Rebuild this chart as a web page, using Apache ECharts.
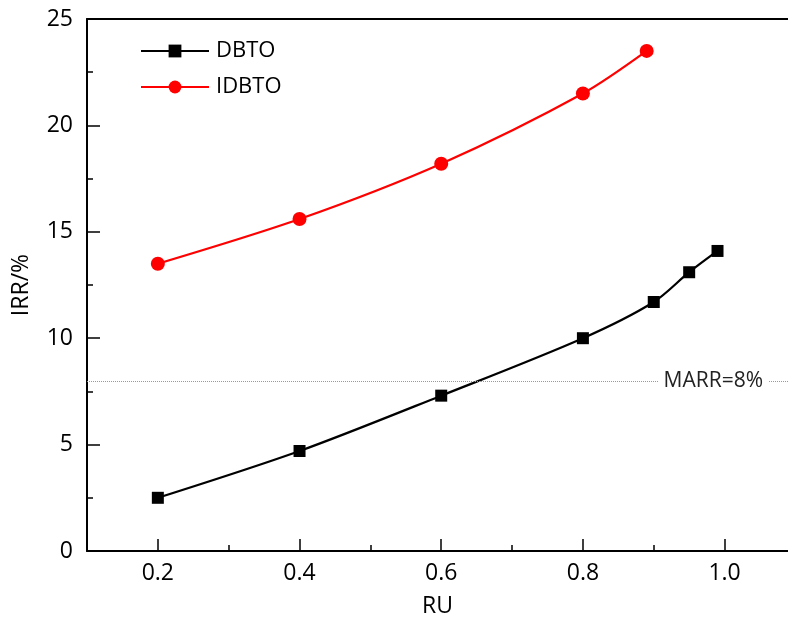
<!DOCTYPE html>
<html><head><meta charset="utf-8">
<script src="https://cdn.jsdelivr.net/npm/echarts@6/dist/echarts.min.js"></script>
<style>html,body{margin:0;padding:0;background:#fff}#c{width:788px;height:624px}</style>
</head><body><div id="c"></div>
<script>
const ruDBTO = [0.2, 0.4, 0.6, 0.8, 0.9, 0.95, 0.99];
const irrDBTO = [2.5, 4.7, 7.3, 10.0, 11.7, 13.1, 14.1];
const ruIDBTO = [0.2, 0.4, 0.6, 0.8, 0.89];
const irrIDBTO = [13.5, 15.6, 18.2, 21.5, 23.5];
const xTicks = [0.2, 0.4, 0.6, 0.8, 1.0];
const xMinorTicks = [0.3, 0.5, 0.7, 0.9];
const marr = 8;

const font = '"Open Sans", Lato, sans-serif';
const xMin = 0.1, xMax = 1.0895;
const chart = echarts.init(document.getElementById('c'), null, {renderer: 'canvas'});
chart.setOption({
  animation: false,
  backgroundColor: '#fff',
  textStyle: {fontFamily: font},
  grid: {left: 87, top: 19, right: 0, bottom: 73, containLabel: false},
  legend: {
    left: 135, top: 35, orient: 'vertical', itemWidth: 68, itemHeight: 16, itemGap: 14,
    textStyle: {fontSize: 22, color: '#000', fontFamily: font, padding: [0, 0, 0, 2]},
    data: ['DBTO', 'IDBTO']
  },
  xAxis: [{
    type: 'value', min: xMin, max: xMax, interval: 0.1,
    name: 'RU', nameLocation: 'middle', nameGap: 44,
    nameTextStyle: {fontSize: 23, color: '#000', fontFamily: font},
    axisLine: {show: true, onZero: false, lineStyle: {color: '#000', width: 2}},
    axisTick: {show: true, inside: true, length: 12, lineStyle: {color: '#000', width: 1.5}, customValues: xTicks},
    axisLabel: {fontSize: 23, color: '#000', margin: 11, fontFamily: font, customValues: xTicks, formatter: v => v.toFixed(1)},
    splitLine: {show: false}
  }, {
    type: 'value', min: xMin, max: xMax, interval: 0.1, position: 'bottom',
    axisLine: {show: false},
    axisTick: {show: true, inside: true, length: 6, lineStyle: {color: '#000', width: 1.5}, customValues: xMinorTicks},
    axisLabel: {show: false},
    splitLine: {show: false}
  }, {
    type: 'value', min: xMin, max: xMax, position: 'top',
    axisLine: {show: true, lineStyle: {color: '#000', width: 2}},
    axisTick: {show: false}, axisLabel: {show: false}, splitLine: {show: false}
  }],
  yAxis: [{
    type: 'value', min: 0, max: 25, interval: 5,
    name: 'IRR/%', nameLocation: 'middle', nameGap: 54, nameRotate: 90,
    nameTextStyle: {fontSize: 23, color: '#000', fontFamily: font},
    axisLine: {show: true, onZero: false, lineStyle: {color: '#000', width: 2}},
    axisTick: {show: true, inside: true, length: 13, lineStyle: {color: '#000', width: 1.5}},
    minorTick: {show: true, splitNumber: 2, length: 6, lineStyle: {color: '#000', width: 1.5}},
    axisLabel: {fontSize: 23, color: '#000', margin: 14, fontFamily: font},
    splitLine: {show: false}
  }],
  series: [{
    name: 'DBTO', type: 'line', xAxisIndex: 0, yAxisIndex: 0,
    data: ruDBTO.map((x, i) => [x, irrDBTO[i]]),
    smooth: 0.3, symbol: 'rect', symbolSize: 12,
    lineStyle: {color: '#000', width: 2.2}, itemStyle: {color: '#000'},
    markLine: {
      silent: true, symbol: 'none',
      lineStyle: {color: '#999', type: 'dotted', width: 1},
      label: {show: true, position: 'insideEnd', distance: 20, formatter: 'MARR=8%', fontSize: 21, color: '#222',
        backgroundColor: '#fff', padding: [0, 5], fontFamily: font},
      data: [[{coord: [xMin, marr]}, {coord: [xMax, marr]}]]
    }
  }, {
    name: 'IDBTO', type: 'line', xAxisIndex: 0, yAxisIndex: 0,
    data: ruIDBTO.map((x, i) => [x, irrIDBTO[i]]),
    smooth: 0.3, symbol: 'circle', symbolSize: 14,
    lineStyle: {color: '#ff0000', width: 2.2}, itemStyle: {color: '#ff0000'}
  }]
});
</script></body></html>
